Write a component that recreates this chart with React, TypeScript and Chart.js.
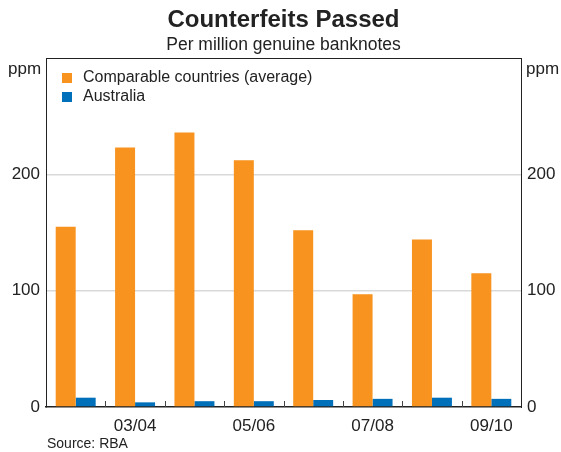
import { useEffect, useRef } from "react";
import { Chart, registerables } from "chart.js";

Chart.register(...registerables);

const categories = ["02/03", "03/04", "04/05", "05/06", "06/07", "07/08", "08/09", "09/10"];
const comparable = [155, 223, 236, 212, 152, 97, 144, 115];
const australia = [8, 4, 5, 5, 6, 7, 8, 7];
const seriesNames = ["Comparable countries (average)", "Australia"];
const seriesColors = ["#F7931E", "#0070BA"];
const yMin = 0;
const yMax = 300;
const yStep = 100;
const titleText = "Counterfeits Passed";
const subtitleText = "Per million genuine banknotes";
const unitText = "ppm";
const sourceText = "Source: RBA";

const FONT = "'Liberation Sans', Arial, Helvetica, sans-serif";

const overlayPlugin = {
  id: "overlay",
  afterDraw(chart: any) {
    const { ctx, chartArea } = chart;
    const { left, right, top, bottom } = chartArea;
    ctx.save();
    // frame
    ctx.strokeStyle = "#222";
    ctx.lineWidth = 1;
    ctx.beginPath();
    ctx.moveTo(left, top + 0.5);
    ctx.lineTo(right, top + 0.5);
    ctx.stroke();
    // inside x ticks at category boundaries
    const xs = chart.scales.x;
    ctx.strokeStyle = "#444";
    ctx.lineWidth = 1;
    for (let i = 1; i < categories.length; i++) {
      const x = Math.round((xs.getPixelForValue(i - 1) + xs.getPixelForValue(i)) / 2) + 0.5;
      ctx.beginPath();
      ctx.moveTo(x, bottom);
      ctx.lineTo(x, bottom - 6);
      ctx.stroke();
    }
    // titles
    const cx = chart.width / 2 + 3;
    ctx.fillStyle = "#222";
    ctx.textAlign = "center";
    ctx.textBaseline = "middle";
    ctx.font = `bold 24px ${FONT}`;
    ctx.fillText(titleText, cx, 20);
    ctx.font = `17.5px ${FONT}`;
    ctx.fillText(subtitleText, cx, 45);
    // units
    ctx.font = `17px ${FONT}`;
    ctx.textAlign = "left";
    ctx.fillText(unitText, 8, 69);
    ctx.fillText(unitText, right + 5, 69);
    // source
    ctx.font = `14px ${FONT}`;
    ctx.fillText(sourceText, left + 1, 444);
    // legend
    ctx.font = `16px ${FONT}`;
    chart.data.datasets.forEach((ds: any, i: number) => {
      const y = 78 + i * 19;
      ctx.fillStyle = ds.backgroundColor;
      ctx.fillRect(left + 16, y - 5, 10, 10);
      ctx.fillStyle = "#222";
      ctx.fillText(ds.label, left + 37, y);
    });
    ctx.restore();
  },
};

export default function App() {
  const ref = useRef<HTMLCanvasElement | null>(null);

  useEffect(() => {
    document.body.style.margin = "0";
    if (!ref.current) return;
    const gridColor = (c: any) =>
      c.tick && c.tick.value > yMin && c.tick.value < yMax ? "#d9d9d9" : "rgba(0,0,0,0)";
    const yTickCb = (v: any) => (Number(v) < yMax ? String(v) : "");
    const chart = new Chart(ref.current, {
      type: "bar",
      data: {
        labels: categories,
        datasets: [
          {
            label: seriesNames[0],
            data: comparable,
            backgroundColor: seriesColors[0],
            barPercentage: 1,
            categoryPercentage: 0.673,
            yAxisID: "y",
          },
          {
            label: seriesNames[1],
            data: australia,
            backgroundColor: seriesColors[1],
            barPercentage: 1,
            categoryPercentage: 0.673,
            yAxisID: "y",
          },
        ],
      },
      options: {
        animation: false,
        responsive: true,
        maintainAspectRatio: false,
        devicePixelRatio: 1,
        layout: { padding: { top: 58, left: 0, right: 0, bottom: 0 } },
        plugins: {
          legend: { display: false },
          title: { display: false },
          tooltip: { enabled: false },
        },
        scales: {
          x: {
            grid: { display: false, drawTicks: false },
            border: { display: true, color: "#222", width: 1.5 },
            ticks: {
              autoSkip: false,
              maxRotation: 0,
              padding: 9,
              color: "#222",
              font: { family: FONT, size: 17 },
              callback: (_v: any, i: number) => (i % 2 === 1 ? categories[i] : ""),
            },
            afterFit: (s: any) => {
              s.height = 45;
            },
          },
          y: {
            position: "left",
            min: yMin,
            max: yMax,
            grid: { color: gridColor, lineWidth: 1.5, drawTicks: false },
            border: { display: true, color: "#222", width: 1 },
            ticks: {
              stepSize: yStep,
              padding: 6,
              color: "#222",
              font: { family: FONT, size: 17 },
              callback: yTickCb,
            },
            afterFit: (s: any) => {
              s.width = 46;
            },
          },
          y2: {
            position: "right",
            min: yMin,
            max: yMax,
            grid: { drawOnChartArea: false, drawTicks: false },
            border: { display: true, color: "#222", width: 1 },
            ticks: {
              stepSize: yStep,
              padding: 6,
              color: "#222",
              font: { family: FONT, size: 17 },
              callback: yTickCb,
            },
            afterFit: (s: any) => {
              s.width = 40;
            },
          },
        },
      },
      plugins: [overlayPlugin],
    });
    return () => chart.destroy();
  }, []);

  return (
    <div style={{ position: "relative", width: 561, height: 452 }}>
      <canvas ref={ref} />
    </div>
  );
}
